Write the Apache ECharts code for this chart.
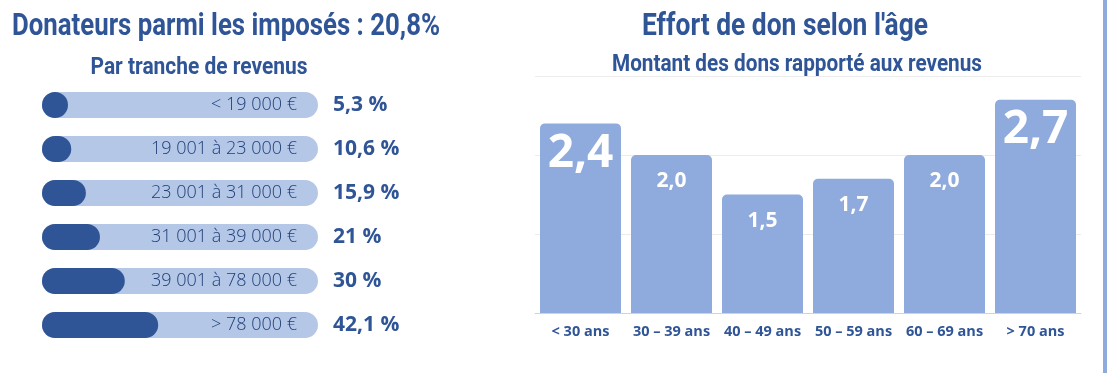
<!DOCTYPE html>
<html><head><meta charset="utf-8">
<script src="https://cdn.jsdelivr.net/npm/echarts@6/dist/echarts.min.js"></script>
<style>html,body{margin:0;padding:0;background:#fff}#c{width:1107px;height:373px}</style>
</head><body><div id="c"></div>
<script>
const incomeBands = ['< 19 000 €','19 001 à 23 000 €','23 001 à 31 000 €','31 001 à 39 000 €','39 001 à 78 000 €','> 78 000 €'];
const donorShare = [5.3, 10.6, 15.9, 21, 30, 42.1];
const ageGroups = ['< 30 ans','30 – 39 ans','40 – 49 ans','50 – 59 ans','60 – 69 ans','> 70 ans'];
const giftEffort = [2.4, 2.0, 1.5, 1.7, 2.0, 2.7];
const effortTicks = [0, 1, 2, 3];

const DARK = '#2f5597', LIGHT = '#b4c7e7', BAR = '#8faadc', TXT = '#1f3f78';
const HEAD = "Roboto, 'Liberation Sans', sans-serif";
const OPEN = "'Open Sans',sans-serif";
const bigIdx = [0, 5];
const fmt = v => String(v).replace('.', ',');

const mctx = document.createElement('canvas').getContext('2d');
function heading(text, cx, cy, size, targetW) {
  const font = 'bold ' + size + 'px ' + HEAD;
  mctx.font = font;
  const w = mctx.measureText(text).width;
  return {type:'text', x:cx, y:cy, originX:0, originY:0, scaleX: targetW / w,
          style:{x:0, y:0, text:text, textAlign:'center', textVerticalAlign:'middle', fill:DARK, font:font}};
}

const chart = echarts.init(document.getElementById('c'), null, {renderer:'canvas'});
chart.setOption({
  animation:false,
  grid:[
    {left:42, top:83, width:276, height:264},
    {left:535, top:76, width:546, height:237}
  ],
  xAxis:[
    {gridIndex:0, type:'value', min:0, max:100, show:false},
    {gridIndex:1, type:'category', data:ageGroups,
     axisLine:{lineStyle:{color:'#c9d4ea', width:1}}, axisTick:{show:false},
     axisLabel:{color:DARK, fontFamily:OPEN, fontWeight:'bold', fontSize:14.5, margin:11, interval:0}}
  ],
  yAxis:[
    {gridIndex:0, type:'category', data:incomeBands, inverse:true, show:false},
    {gridIndex:0, type:'category', data:donorShare.map(v=>fmt(v)+' %'), inverse:true, position:'right',
     axisLine:{show:false}, axisTick:{show:false},
     axisLabel:{color:DARK, fontFamily:OPEN, fontWeight:'bold', fontSize:21, margin:15, align:'left'}},
    {gridIndex:1, type:'value', min:effortTicks[0], max:effortTicks[effortTicks.length-1], interval:1,
     axisLabel:{show:false}, axisLine:{show:false}, axisTick:{show:false},
     splitLine:{lineStyle:{color:'#ececec'}}}
  ],
  series:[
    {type:'bar', xAxisIndex:0, yAxisIndex:0, silent:true, barWidth:26,
     data:incomeBands.map(()=>100),
     itemStyle:{color:LIGHT, borderRadius:13},
     label:{show:true, position:'insideRight', distance:21, formatter:'{b}',
            color:TXT, fontFamily:OPEN, fontWeight:300, fontSize:18}},
    {type:'bar', xAxisIndex:0, yAxisIndex:0, silent:true, barWidth:26, barGap:'-100%', barMinHeight:26,
     data:donorShare, itemStyle:{color:DARK, borderRadius:13}},
    {type:'bar', xAxisIndex:1, yAxisIndex:2, silent:true, barWidth:81,
     data:giftEffort.map((v,i)=>({value:v, label: bigIdx.includes(i) ? {fontSize:46, distance:7} : undefined})),
     itemStyle:{color:BAR, borderRadius:[5,5,0,0]},
     label:{show:true, position:'insideTop', distance:16, color:'#fff', fontFamily:OPEN, fontWeight:'bold', fontSize:21,
            formatter:p=>p.value.toFixed(1).replace('.', ',')}}
  ],
  graphic:[
    heading('Donateurs parmi les imposés : 20,8%', 226, 27, 32, 428),
    heading('Par tranche de revenus', 199, 68, 24, 217),
    heading("Effort de don selon l'âge", 785, 27, 32, 286),
    heading('Montant des dons rapporté aux revenus', 797, 65, 24, 370),
    {type:'rect', shape:{x:1103, y:0, width:4, height:373}, style:{fill:BAR}}
  ]
});
</script></body></html>
